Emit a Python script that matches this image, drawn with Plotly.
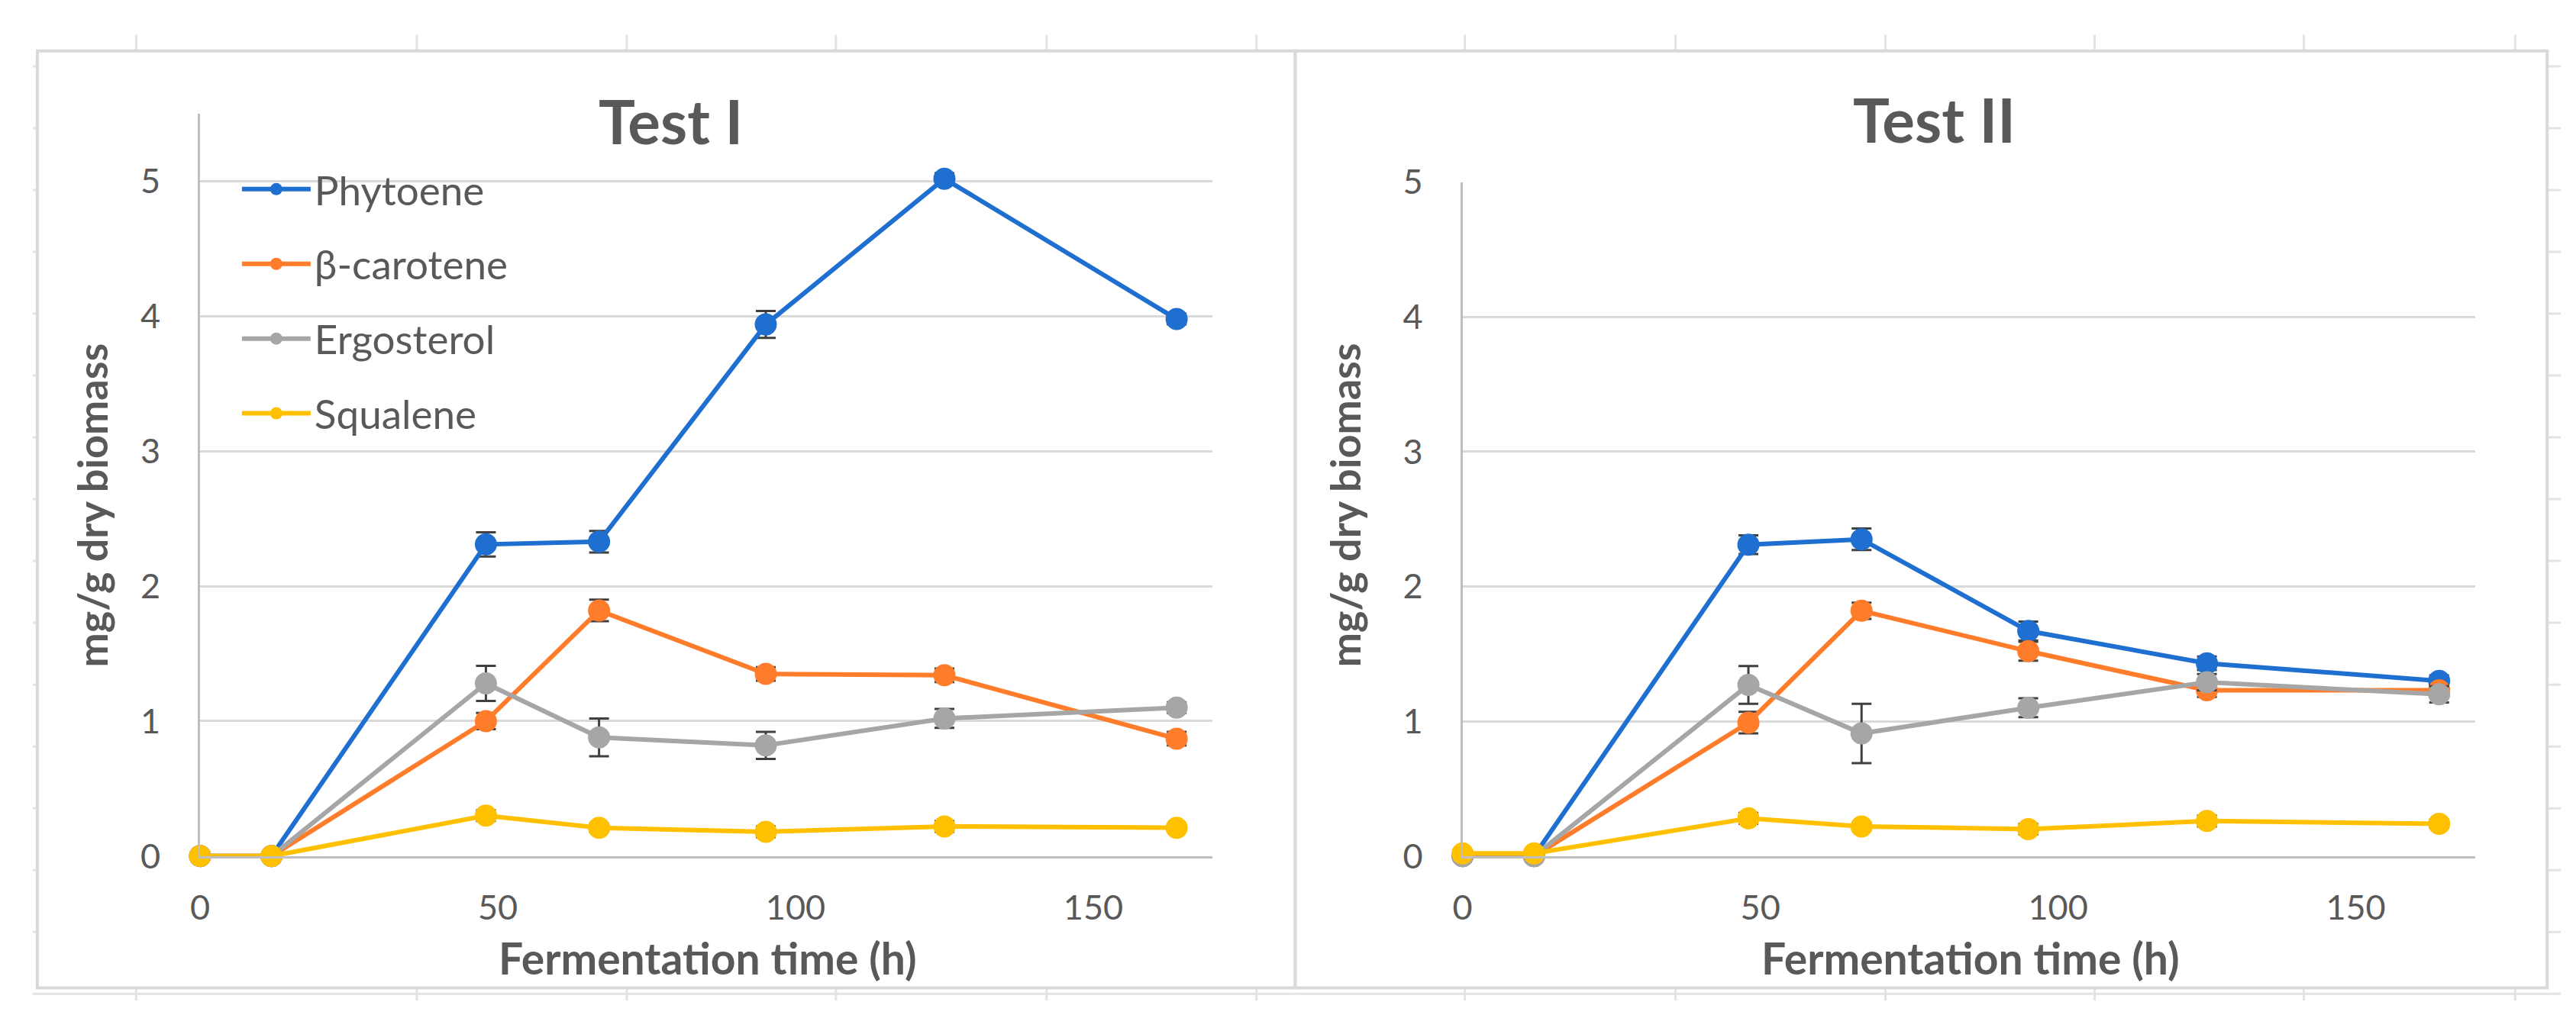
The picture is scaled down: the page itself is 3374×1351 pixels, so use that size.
import plotly.graph_objects as go

W, H = 3374, 1351

# ---------------- data ----------------
time_h = [0, 12, 48, 67, 95, 125, 164]
series_names = ["Phytoene", "β-carotene", "Ergosterol", "Squalene"]
series_colors = ["#1E6FD0", "#FF7C2A", "#A6A6A6", "#FFC000"]

phytoene_1 = [0, 0, 2.31, 2.33, 3.94, 5.02, 3.98]
phytoene_1_err = [0, 0, 0.09, 0.08, 0.10, 0.04, 0.04]
carotene_1 = [0, 0, 1.00, 1.82, 1.35, 1.34, 0.87]
carotene_1_err = [0, 0, 0.06, 0.08, 0.05, 0.05, 0.05]
ergosterol_1 = [0, 0, 1.28, 0.88, 0.82, 1.02, 1.10]
ergosterol_1_err = [0, 0, 0.13, 0.14, 0.10, 0.07, 0.04]
squalene_1 = [0, 0, 0.30, 0.21, 0.18, 0.22, 0.21]
squalene_1_err = [0, 0, 0.04, 0.03, 0.04, 0.04, 0.02]

phytoene_2 = [0, 0, 2.31, 2.35, 1.67, 1.43, 1.30]
phytoene_2_err = [0, 0, 0.07, 0.08, 0.07, 0.05, 0.04]
carotene_2 = [0, 0, 0.99, 1.82, 1.52, 1.23, 1.23]
carotene_2_err = [0, 0, 0.08, 0.06, 0.07, 0.05, 0.04]
ergosterol_2 = [0, 0, 1.27, 0.91, 1.10, 1.29, 1.20]
ergosterol_2_err = [0, 0, 0.14, 0.22, 0.07, 0.06, 0.06]
squalene_2 = [0.02, 0.02, 0.28, 0.22, 0.20, 0.26, 0.24]
squalene_2_err = [0, 0, 0.04, 0.03, 0.04, 0.04, 0.03]

x_ticks = [0, 50, 100, 150]
y_ticks = [0, 1, 2, 3, 4, 5]
panel_titles = ["Test I", "Test II"]
x_title = "Fermentation time (h)"
y_title = "mg/g dry biomass"

test1 = [(phytoene_1, phytoene_1_err), (carotene_1, carotene_1_err),
         (ergosterol_1, ergosterol_1_err), (squalene_1, squalene_1_err)]
test2 = [(phytoene_2, phytoene_2_err), (carotene_2, carotene_2_err),
         (ergosterol_2, ergosterol_2_err), (squalene_2, squalene_2_err)]

FONT = "Lato"
TXT = "#595959"


def px(x):
    return x / W


def py(y):
    return 1 - y / H


fig = go.Figure()

for panel, data in enumerate([test1, test2]):
    xa = "x" if panel == 0 else "x2"
    ya = "y" if panel == 0 else "y2"
    for i, (vals, errs) in enumerate(data):
        fig.add_trace(go.Scatter(
            x=time_h, y=vals, xaxis=xa, yaxis=ya,
            mode="lines+markers",
            name=series_names[i],
            legendgroup=series_names[i],
            showlegend=(panel == 0),
            line=dict(color=series_colors[i], width=6),
            marker=dict(color=series_colors[i], size=29),
            error_y=dict(type="data", array=errs, visible=True,
                         color="#404040", thickness=3, width=13),
            cliponaxis=False,
        ))

axis_common = dict(
    showgrid=False, zeroline=False, ticks="",
    tickfont=dict(family=FONT, size=45, color=TXT),
)
fig.update_layout(
    width=W, height=H,
    margin=dict(l=0, r=0, t=0, b=0),
    paper_bgcolor="white", plot_bgcolor="rgba(0,0,0,0)",
    xaxis=dict(domain=[px(242), px(1573)], range=[0, 170], tickvals=x_ticks,
               showline=True, linecolor="#BFBFBF", linewidth=3,
               ticklabelstandoff=26, anchor="y", **axis_common),
    yaxis=dict(domain=[py(1131), py(118)], range=[0, 5.5], tickvals=y_ticks,
               showline=True, linecolor="#BFBFBF", linewidth=3,
               showgrid=True, gridcolor="#D9D9D9", gridwidth=3,
               zeroline=False, ticks="", ticklabelstandoff=40, anchor="x",
               tickfont=dict(family=FONT, size=45, color=TXT)),
    xaxis2=dict(domain=[px(1902), px(3233)], range=[0, 170], tickvals=x_ticks,
                showline=True, linecolor="#BFBFBF", linewidth=3,
                ticklabelstandoff=26, anchor="y2", **axis_common),
    yaxis2=dict(domain=[py(1131), py(211)], range=[0, 5], tickvals=y_ticks,
                showline=True, linecolor="#BFBFBF", linewidth=3,
                showgrid=True, gridcolor="#D9D9D9", gridwidth=3,
                zeroline=False, ticks="", ticklabelstandoff=40, anchor="x2",
                tickfont=dict(family=FONT, size=45, color=TXT)),
    legend=dict(x=px(292), y=py(178), xanchor="left", yanchor="top",
                bgcolor="rgba(0,0,0,0)", borderwidth=0,
                font=dict(family=FONT, size=53, color=TXT),
                traceorder="grouped", tracegroupgap=26, itemwidth=90),
)

# spreadsheet background grid and chart boxes (decoration)
shapes = []
for cx in [158, 527, 803, 1078, 1355, 1631, 1905, 2182, 2458, 2733, 3008, 3286]:
    shapes.append(dict(type="line", xref="paper", yref="paper",
                       x0=px(cx), x1=px(cx), y0=py(10), y1=py(1328),
                       line=dict(color="#E3E3E3", width=3), layer="below"))
for k in range(16):
    ry = 53 + 84.4 * k
    shapes.append(dict(type="line", xref="paper", yref="paper",
                       x0=px(22), x1=px(3346), y0=py(ry), y1=py(ry),
                       line=dict(color="#E3E3E3", width=3), layer="below"))
for (bx0, bx1) in [(28, 1682), (1682, 3328)]:
    shapes.append(dict(type="rect", xref="paper", yref="paper",
                       x0=px(bx0), x1=px(bx1), y0=py(1311), y1=py(32),
                       fillcolor="white", line=dict(color="#D9D9D9", width=4),
                       layer="below"))
fig.update_layout(shapes=shapes)

annotations = [
    dict(text=panel_titles[0], x=px(861), y=py(127)),
    dict(text=panel_titles[1], x=px(2522), y=py(125)),
]
for a in annotations:
    a.update(xref="paper", yref="paper", showarrow=False, xanchor="center",
             yanchor="middle", font=dict(family=FONT, size=80, color=TXT, weight="bold"))
for cx in [910, 2570]:
    annotations.append(dict(text=x_title, x=px(cx), y=py(1270), xref="paper", yref="paper",
                            showarrow=False, xanchor="center", yanchor="middle",
                            font=dict(family=FONT, size=57, color=TXT, weight="bold")))
for cx in [100, 1748]:
    annotations.append(dict(text=y_title, x=px(cx), y=py(652), xref="paper", yref="paper",
                            showarrow=False, xanchor="center", yanchor="middle", textangle=-90,
                            font=dict(family=FONT, size=54, color=TXT, weight="bold")))
fig.update_layout(annotations=annotations)

fig.write_html("out.html")
